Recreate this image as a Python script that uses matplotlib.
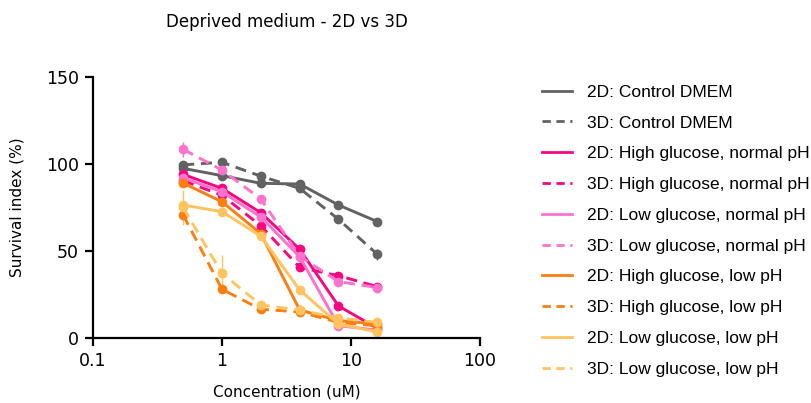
import matplotlib.pyplot as plt
from matplotlib.lines import Line2D

conc = [0.5, 1, 2, 4, 8, 16]

ctrl_2d = [97.5, 93.3, 88.9, 88.5, 76.4, 66.9]
ctrl_3d = [99.5, 101.0, 93.0, 86.0, 68.2, 48.1]
hg_nph_2d = [94.0, 86.0, 72.0, 51.0, 18.4, 5.6]
hg_nph_3d = [90.5, 82.0, 64.5, 40.6, 35.8, 29.5]
lg_nph_2d = [92.0, 84.0, 69.5, 46.7, 7.1, 4.5]
lg_nph_3d = [108.4, 96.5, 79.9, 47.0, 32.4, 29.0]
hg_lph_2d = [89.0, 78.3, 60.0, 16.1, 10.0, 8.0]
hg_lph_3d = [70.7, 28.0, 16.5, 15.0, 9.0, 7.0]
lg_lph_2d = [76.4, 72.6, 58.5, 27.6, 8.0, 3.5]
lg_lph_3d = [75.0, 37.1, 19.0, 16.0, 11.5, 9.0]

err_zero = [0, 0, 0, 0, 0, 0]
err_ctrl_3d = [0, 0, 0, 0, 0, 3.0]
err_lg_nph_2d = [0, 0, 0, 3.0, 0, 0]
err_lg_nph_3d = [4.5, 0, 0, 0, 0, 0]
err_lg_lph_3d = [10.0, 10.6, 0, 0, 0, 0]

labels = [
    "2D: Control DMEM", "3D: Control DMEM",
    "2D: High glucose, normal pH", "3D: High glucose, normal pH",
    "2D: Low glucose, normal pH", "3D: Low glucose, normal pH",
    "2D: High glucose, low pH", "3D: High glucose, low pH",
    "2D: Low glucose, low pH", "3D: Low glucose, low pH",
]

gray = '#626262'
magenta = '#F7077F'
pink = '#FC72CC'
orange = '#FA7F10'
lorange = '#FFC460'

series = [
    (ctrl_2d, err_zero, gray, '-'),
    (ctrl_3d, err_ctrl_3d, gray, '--'),
    (hg_nph_2d, err_zero, magenta, '-'),
    (hg_nph_3d, err_zero, magenta, '--'),
    (lg_nph_2d, err_lg_nph_2d, pink, '-'),
    (lg_nph_3d, err_lg_nph_3d, pink, '--'),
    (hg_lph_2d, err_zero, orange, '-'),
    (hg_lph_3d, err_zero, orange, '--'),
    (lg_lph_2d, err_zero, lorange, '-'),
    (lg_lph_3d, err_lg_lph_3d, lorange, '--'),
]

plt.rcParams['font.family'] = ['DejaVu Sans']
fig = plt.figure(figsize=(8.11, 4.03), dpi=100)
ax = fig.add_axes([93 / 811, 65 / 403, 387 / 811, 261 / 403])

handles = []
for (vals, err, col, ls), lab in zip(series, labels):
    ax.errorbar(conc, vals, yerr=err, color=col, ecolor=col, elinewidth=1,
                capsize=0, linestyle=ls, linewidth=2.1, marker='o',
                markersize=6, dashes=(3.8, 2.3) if ls == '--' else (None, None),
                clip_on=False)
    handles.append(Line2D([0], [0], color=col, linewidth=2.0, linestyle=ls,
                          dashes=(3, 2) if ls == '--' else (None, None)))

ax.set_xscale('log')
ax.set_xlim(0.1, 100)
ax.set_ylim(0, 150)
ax.set_xticks([0.1, 1, 10, 100])
ax.set_xticklabels(['0.1', '1', '10', '100'])
ax.minorticks_off()
ax.set_yticks([0, 50, 100, 150])
for s in ['top', 'right']:
    ax.spines[s].set_visible(False)
for s in ['left', 'bottom']:
    ax.spines[s].set_linewidth(1.6)
ax.tick_params(width=1.6, length=6, pad=4, labelsize=12.5, colors='black')

ax.set_xlabel('Concentration (uM)', fontsize=11)
ax.set_ylabel('Survival index (%)', fontsize=11)
ax.xaxis.set_label_coords(0.5, -0.18)
ax.yaxis.set_label_coords(-0.178, 0.5)
ax.set_title('Deprived medium - 2D vs 3D', fontsize=12, pad=36)

ax.legend(handles, labels, loc='upper left', bbox_to_anchor=(526 / 811, 1 - 69 / 403),
          bbox_transform=fig.transFigure, frameon=False, handlelength=1.75,
          handletextpad=0.85, labelspacing=0.9,
          prop={'family': 'Liberation Sans', 'size': 12.5})

fig.savefig('out.png', dpi=100)
